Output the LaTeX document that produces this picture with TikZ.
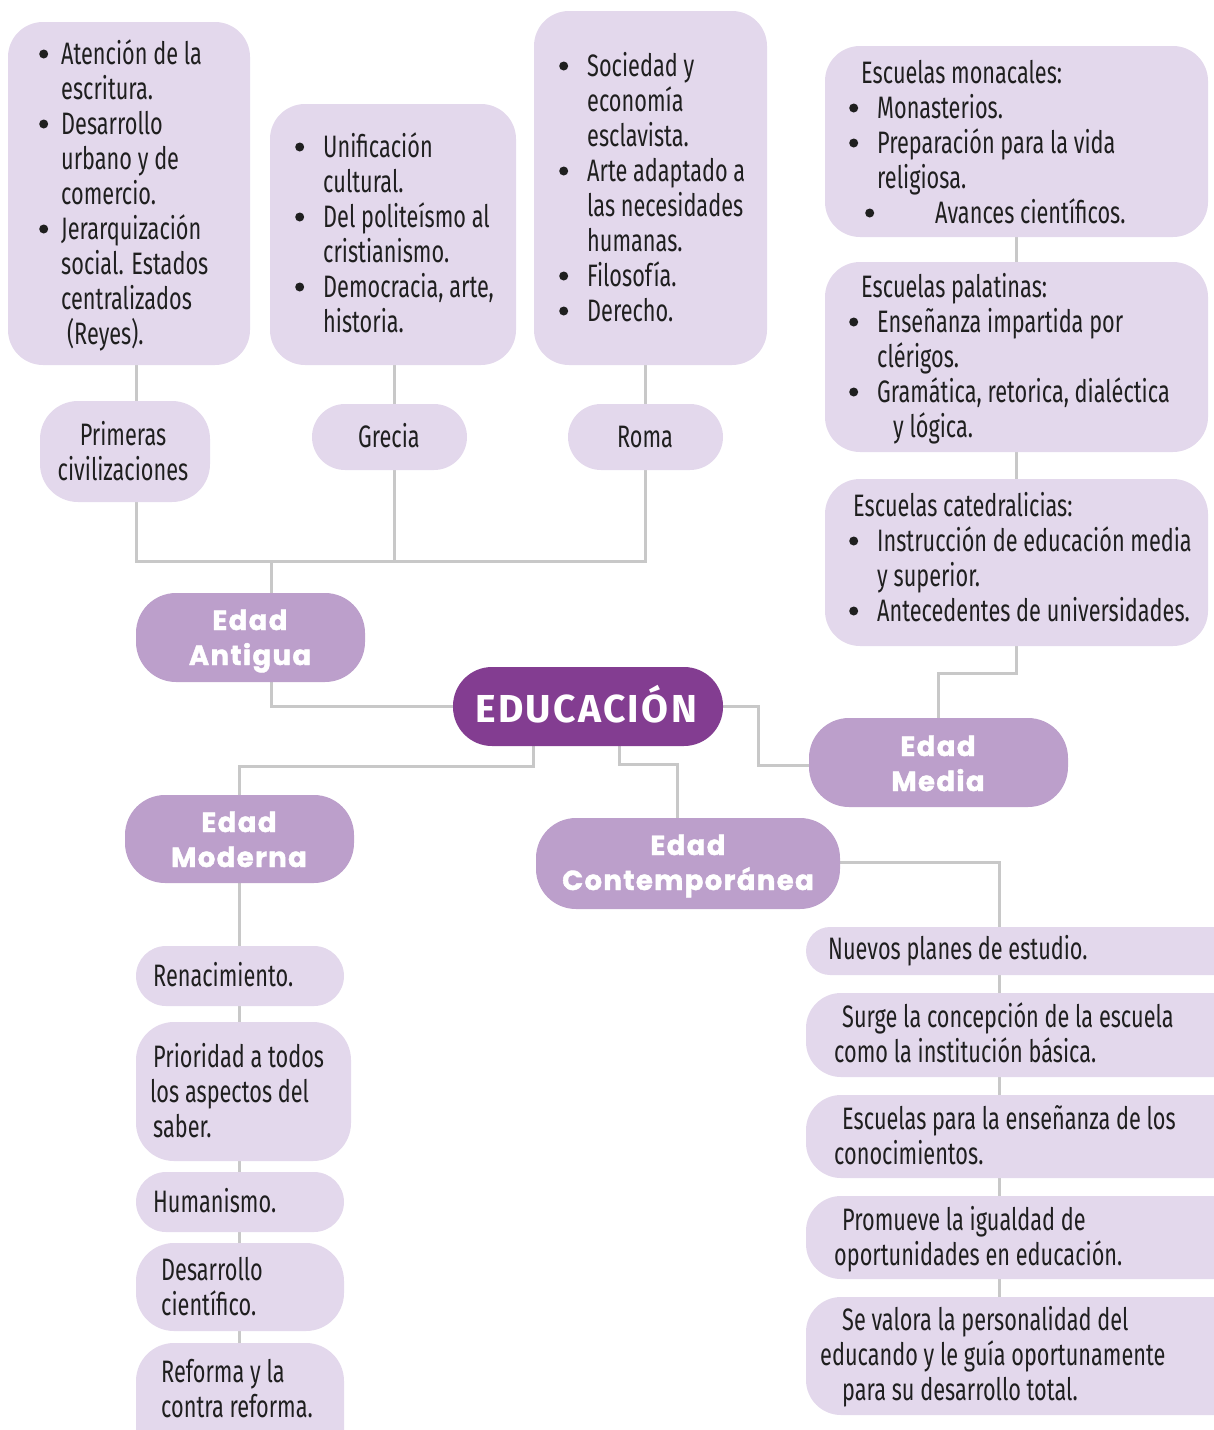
\documentclass[tikz,border=0pt]{standalone}
\usepackage{fontspec}
\setmainfont{Fira Sans}[FakeStretch=0.70]
\newfontfamily\hfont{Poppins}[LetterSpace=5, BoldFeatures={FakeBold=1.5}]
\newfontfamily\efont{Fira Sans}[LetterSpace=6]
\usetikzlibrary{backgrounds}
\definecolor{lilac}{HTML}{E3D8EC}
\definecolor{mauve}{HTML}{BC9FCB}
\definecolor{plum}{HTML}{833D91}
\definecolor{wire}{HTML}{C8C8C8}
\newcommand\bul{\tikz[baseline=0pt,x=1pt,y=1pt]\fill[black!88] (4.5,10) circle (4.5pt);}
\newcommand\blines[2][26pt]{\vtop{\baselineskip=35pt\lineskiplimit=-100pt\lineskip=0pt
  \halign{\hbox to #1{##\hfil}&##\hfil\cr#2\crcr}}}
\newcommand\plines[1]{\vtop{\baselineskip=35pt\lineskiplimit=-100pt\lineskip=0pt
  \halign{##\hfil\cr#1\crcr}}}
\newcommand\clines[1]{\vtop{\baselineskip=35pt\lineskiplimit=-100pt\lineskip=0pt
  \halign{\hfil##\hfil\cr#1\crcr}}}
\newcommand\mkbox[6]{%
  \pgfmathsetmacro\bcx{(#3+#5)/2}\pgfmathsetmacro\bcy{(#4+#6)/2}%
  \pgfmathsetmacro\bw{#5-#3}\pgfmathsetmacro\bh{#6-#4}%
  \node[#1, minimum width=\bw pt, minimum height=\bh pt] (#2) at (\bcx,\bcy) {};}
\tikzset{
  lbox/.style={rectangle, fill=lilac, inner sep=0pt, rounded corners=#1},
  lbox/.default=35pt,
  agebox/.style={rectangle, fill=mauve, inner sep=0pt, rounded corners=40pt},
  rootbox/.style={rectangle, fill=plum, inner sep=0pt, rounded corners=39pt},
  bodytext/.style={inner sep=0pt, anchor=base west, text=black!88, font=\fontsize{31}{35}\selectfont},
  bodyc/.style={bodytext, anchor=base},
  agetext/.style={inner sep=0pt, anchor=base, text=white, font=\hfont\bfseries\fontsize{27.5}{35}\selectfont},
  roottext/.style={inner sep=0pt, anchor=base, text=white, font=\efont\bfseries\fontsize{39}{45}\selectfont},
  conn/.style={draw=wire, line width=3pt},
}
\begin{document}
\begin{tikzpicture}[x=1pt,y=-1pt]
\useasboundingbox (0,0) rectangle (1214,1430);
\clip (0,0) rectangle (1214,1430);
% ---------- boxes ----------
\mkbox{lbox}{a1}{8}{22}{250}{365}
\mkbox{lbox}{a2}{270}{104}{516}{365}
\mkbox{lbox}{a3}{534}{11}{767}{365}
\mkbox{lbox=38pt}{p1}{40}{401}{210}{502}
\mkbox{lbox=33pt}{p2}{312}{404}{467}{470}
\mkbox{lbox=33pt}{p3}{568}{404}{723}{470}
\mkbox{agebox}{ea}{136}{593}{365}{682}
\mkbox{rootbox}{edu}{453}{667}{723}{746}
\mkbox{agebox}{em}{809}{718}{1068}{807}
\mkbox{lbox}{m1}{825}{46}{1208}{237}
\mkbox{lbox}{m2}{825}{262}{1208}{452}
\mkbox{lbox}{m3}{825}{479}{1208}{646}
\mkbox{agebox}{emo}{125}{795}{354}{883}
\mkbox{agebox}{ec}{536}{818}{840}{909}
\mkbox{lbox=24pt}{c1}{806}{927}{1250}{975}
\mkbox{lbox}{c2}{806}{993}{1250}{1077}
\mkbox{lbox}{c3}{806}{1095}{1250}{1178}
\mkbox{lbox}{c4}{806}{1196}{1250}{1279}
\mkbox{lbox}{c5}{806}{1297}{1250}{1415}
\mkbox{lbox=30pt}{l1}{136}{946}{344}{1006}
\mkbox{lbox=38pt}{l2}{136}{1022}{351}{1161}
\mkbox{lbox=30pt}{l3}{136}{1172}{344}{1232}
\mkbox{lbox=38pt}{l4}{136}{1243}{344}{1331}
\mkbox{lbox=38pt}{l5}{136}{1343}{344}{1470}
% ---------- texts ----------
\node[bodytext] (a1t) at (39,64) {\blines[22pt]{%
\bul & Atención de la\cr
 & escritura.\cr
\bul & Desarrollo\cr
 & urbano y de\cr
 & comercio.\cr
\bul & Jerarquización\cr
 & social. Estados\cr
 & centralizados\cr
 & \hspace*{6pt}(Reyes).}};
\node[bodytext] (a2t) at (295,157) {\blines[28pt]{%
\bul & Unificación\cr
 & cultural.\cr
\bul & Del politeísmo al\cr
 & cristianismo.\cr
\bul & Democracia, arte,\cr
 & historia.}};
\node[bodytext] (a3t) at (559,76) {\blines[28pt]{%
\bul & Sociedad y\cr
 & economía\cr
 & esclavista.\cr
\bul & Arte adaptado a\cr
 & las necesidades\cr
 & humanas.\cr
\bul & Filosofía.\cr
\bul & Derecho.}};
\node[bodyc] (p1t) at (123,445) {\clines{Primeras\cr civilizaciones}};
\node[bodyc] (p2t) at (389,447) {Grecia};
\node[bodyc] (p3t) at (645,447) {Roma};
\node[bodytext] (m1t) at (849,83) {\blines[28pt]{%
\hspace*{12pt}\rlap{Escuelas monacales:} & \cr
\bul & Monasterios.\cr
\bul & Preparación para la vida\cr
 & religiosa.\cr
\hspace*{16pt}\bul & \hspace*{58pt}Avances científicos.}};
\node[bodytext] (m2t) at (849,297) {\blines[28pt]{%
\hspace*{12pt}\rlap{Escuelas palatinas:} & \cr
\bul & Enseñanza impartida por\cr
 & clérigos.\cr
\bul & Gramática, retorica, dialéctica\cr
 & \hspace*{16pt}y lógica.}};
\node[bodytext] (m3t) at (849,516) {\blines[28pt]{%
\hspace*{4pt}\rlap{Escuelas catedralicias:} & \cr
\bul & Instrucción de educación media\cr
 & y superior.\cr
\bul & Antecedentes de universidades.}};
\node[bodytext] (c1t) at (828,959) {Nuevos planes de estudio.};
\node[bodytext] (c2t) at (834,1027) {\plines{%
\hspace*{8pt}Surge la concepción de la escuela\cr
como la institución básica.}};
\node[bodytext] (c3t) at (834,1129) {\plines{%
\hspace*{8pt}Escuelas para la enseñanza de los\cr
conocimientos.}};
\node[bodytext] (c4t) at (834,1230) {\plines{%
\hspace*{8pt}Promueve la igualdad de\cr
oportunidades en educación.}};
\node[bodytext] (c5t) at (820,1330) {\plines{%
\hspace*{22pt}Se valora la personalidad del\cr
educando y le guía oportunamente\cr
\hspace*{22pt}para su desarrollo total.}};
\node[bodytext] (l1t) at (153,986) {Renacimiento.};
\node[bodytext] (l2t) at (150,1067) {\plines{%
\hspace*{3pt}Prioridad a todos\cr
los aspectos del\cr
\hspace*{3pt}saber.}};
\node[bodytext] (l3t) at (153,1212) {Humanismo.};
\node[bodytext] (l4t) at (161,1280) {\plines{Desarrollo\cr científico.}};
\node[bodytext] (l5t) at (161,1382) {\plines{Reforma y la\cr contra reforma.}};
\node[agetext] (eat) at (250,630) {\clines{Edad\cr Antigua}};
\node[agetext] (emt) at (938,756) {\clines{Edad\cr Media}};
\node[agetext] (emot) at (239,832) {\clines{Edad\cr Moderna}};
\node[agetext] (ect) at (688,855) {\clines{Edad\cr Contemporánea}};
\node[roottext] (edut) at (586,722) {EDUCACIÓN};
% ---------- connectors ----------
\begin{pgfonlayer}{background}
\coordinate (x1) at (136,561);
\coordinate (x2) at (394,561);
\coordinate (x3) at (645,561);
\coordinate (jA) at (271,561);
\draw[conn] (a1.south -| x1) -- (p1.north -| x1);
\draw[conn] (a2.south -| x2) -- (p2.north -| x2);
\draw[conn] (a3.south -| x3) -- (p3.north -| x3);
\draw[conn] (p1.south -| x1) -- (x1) -- (x3) -- (p3.south -| x3);
\draw[conn] (p2.south -| x2) -- (x2);
\draw[conn] (jA) -- (ea.north -| jA);
\draw[conn] (ea.south -| jA) |- (edu.west);
\coordinate (jM) at (758,765);
\draw[conn] (edu.east) -| (jM) -- (jM -| em.west);
\coordinate (jM2) at (1016,673);
\draw[conn] (em.north) |- (jM2) -- (jM2 |- m3.south);
\draw[conn] (m1.south -| jM2) -- (m3.north -| jM2);
\coordinate (jL) at (533,766);
\draw[conn] (edu.south -| jL) -- (jL) -| (emo.north);
\coordinate (jC) at (619,764);
\coordinate (jC2) at (677,764);
\draw[conn] (edu.south -| jC) -- (jC) -- (jC2) -- (jC2 |- ec.north);
\coordinate (jR) at (999,862);
\draw[conn] (ec.east |- jR) -- (jR) -- (jR |- c5.north);
\draw[conn] (emo.south) -- (emo.south |- l5.north);
\end{pgfonlayer}
\end{tikzpicture}
\end{document}
